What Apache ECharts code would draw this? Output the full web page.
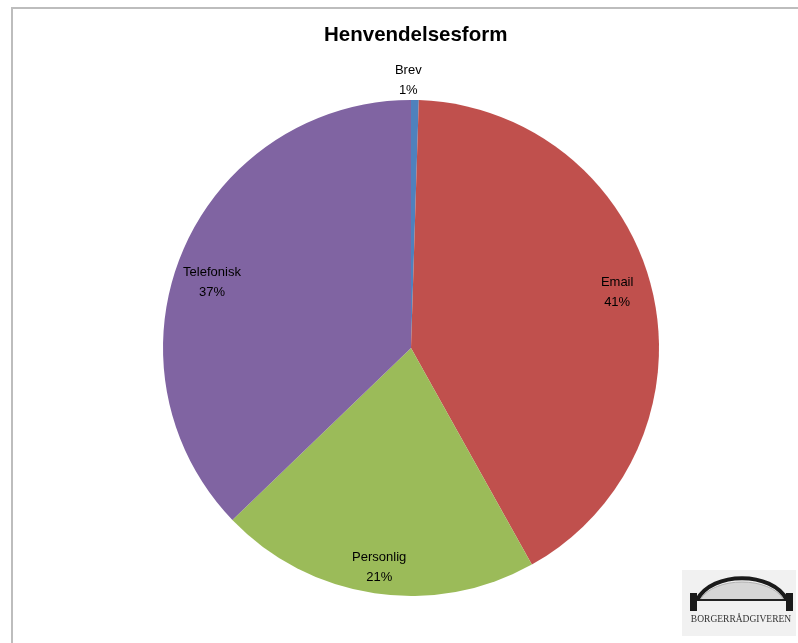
<!DOCTYPE html>
<html>
<head>
<meta charset="utf-8">
<script src="https://cdn.jsdelivr.net/npm/echarts@6/dist/echarts.min.js"></script>
<style>
html,body{margin:0;padding:0;background:#fff;}
#chart{width:798px;height:643px;}
</style>
</head>
<body>
<div id="chart"></div>
<script>
const titleText = 'Henvendelsesform';
const categories = ['Brev', 'Email', 'Personlig', 'Telefonisk'];
const values = [0.5, 41.4, 20.9, 37.2];
const percentLabels = ['1%', '41%', '21%', '37%'];
const colors = ['#4F81BD', '#C0504D', '#9BBB59', '#8064A2'];

const R = 248;
const center = [411, 348];
const labelShift = { 'Brev': [-7, 5], 'Email': [-4, -4], 'Telefonisk': [0, 19], 'Personlig': [0, 5] };

const pieData = categories.map((c, i) => ({ name: c, value: values[i], itemStyle: { color: colors[i] } }));

const innerLabelData = categories.map((c, i) => ({
  name: c, value: values[i],
  label: { show: c !== 'Brev', offset: labelShift[c] || [0, 0] }
}));
const outerLabelData = categories.map((c, i) => ({
  name: c, value: values[i],
  label: { show: c === 'Brev', offset: labelShift[c] || [0, 0] }
}));

const labelFmt = p => p.name + '\n' + percentLabels[p.dataIndex];
const labelStyle = {
  position: 'inside', formatter: labelFmt, color: '#000',
  fontFamily: 'Liberation Sans, Arial, sans-serif', fontSize: 13, lineHeight: 20
};

const chart = echarts.init(document.getElementById('chart'), null, { renderer: 'canvas' });
chart.setOption({
  animation: false,
  backgroundColor: '#ffffff',
  title: {
    text: titleText, left: 319, top: 20,
    textStyle: { fontFamily: 'Liberation Sans, Arial, sans-serif', fontWeight: 'bold', fontSize: 20.5, color: '#000' }
  },
  graphic: [
    { type: 'rect', shape: { x: 12, y: 8, width: 820, height: 660 }, style: { fill: 'none', stroke: '#bdbdbd', lineWidth: 2 }, silent: true, z: 0 },
    { type: 'rect', shape: { x: 682, y: 570, width: 114, height: 66 }, style: { fill: '#f1f1f1' }, silent: true, z: 1 },
    { type: 'bezierCurve', shape: { x1: 700, y1: 600, x2: 784, y2: 600, cpx1: 714, cpy1: 576, cpx2: 770, cpy2: 576 }, style: { stroke: '#b0b0b0', lineWidth: 1, fill: '#d6d6d6' }, silent: true, z: 2 },
    { type: 'polyline', shape: { points: [[690, 600], [793, 600]] }, style: { stroke: '#222', lineWidth: 2 }, silent: true, z: 3 },
    { type: 'bezierCurve', shape: { x1: 697, y1: 600, x2: 787, y2: 600, cpx1: 712, cpy1: 571, cpx2: 772, cpy2: 571 }, style: { stroke: '#1a1a1a', lineWidth: 4, fill: 'none' }, silent: true, z: 3 },
    { type: 'rect', shape: { x: 690, y: 593, width: 7, height: 18 }, style: { fill: '#1a1a1a' }, silent: true, z: 4 },
    { type: 'rect', shape: { x: 786, y: 593, width: 7, height: 18 }, style: { fill: '#1a1a1a' }, silent: true, z: 4 },
    { type: 'text', style: { x: 741, y: 619, text: 'BORGERRÅDGIVEREN', fill: '#333', font: '9.5px "Liberation Serif", serif', textAlign: 'center', textVerticalAlign: 'middle' }, silent: true, z: 4 }
  ],
  series: [
    {
      type: 'pie', center: center, radius: [0, R], startAngle: 90, clockwise: true,
      data: pieData, label: { show: false }, labelLine: { show: false },
      itemStyle: { borderWidth: 0 }, emphasis: { disabled: true }, silent: true, z: 2
    },
    {
      type: 'pie', center: center, radius: [R * 0.72, R], startAngle: 90, clockwise: true,
      data: innerLabelData, itemStyle: { color: 'rgba(0,0,0,0)', borderWidth: 0 },
      label: labelStyle, labelLine: { show: false }, emphasis: { disabled: true }, silent: true, z: 3
    },
    {
      type: 'pie', center: center, radius: [R, R + 44], startAngle: 90, clockwise: true,
      data: outerLabelData, itemStyle: { color: 'rgba(0,0,0,0)', borderWidth: 0 },
      label: labelStyle, labelLine: { show: false }, emphasis: { disabled: true }, silent: true, z: 3
    }
  ]
});
</script>
</body>
</html>
